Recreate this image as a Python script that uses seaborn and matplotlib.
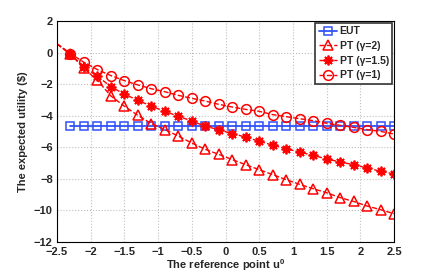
import numpy as np
import pandas as pd
import seaborn as sns
import matplotlib.pyplot as plt

# reference point u0 (markers every 0.2, PT lines start at -2.5)
u0 = [-2.5, -2.3, -2.1, -1.9, -1.7, -1.5, -1.3, -1.1, -0.9, -0.7, -0.5, -0.3, -0.1,
      0.1, 0.3, 0.5, 0.7, 0.9, 1.1, 1.3, 1.5, 1.7, 1.9, 2.1, 2.3, 2.5]

eut = [-4.62] * 25
pt_g2 = [0.55, -0.10, -1.00, -1.76, -2.75, -3.40, -3.98, -4.50, -4.88, -5.29, -5.73, -6.13, -6.45,
         -6.78, -7.10, -7.42, -7.73, -8.05, -8.35, -8.62, -8.88, -9.19, -9.43, -9.72, -9.95, -10.21]
pt_g15 = [0.55, -0.10, -0.91, -1.50, -2.16, -2.64, -3.02, -3.40, -3.72, -4.04, -4.33, -4.67, -4.88,
          -5.14, -5.35, -5.62, -5.86, -6.09, -6.30, -6.51, -6.74, -6.93, -7.10, -7.31, -7.52, -7.69]
pt_g1 = [0.55, -0.06, -0.62, -1.08, -1.46, -1.78, -2.05, -2.29, -2.48, -2.71, -2.90, -3.07, -3.28,
         -3.45, -3.60, -3.72, -3.93, -4.06, -4.19, -4.31, -4.48, -4.61, -4.74, -4.88, -4.99, -5.16]

xticks = [-2.5, -2, -1.5, -1, -0.5, 0, 0.5, 1, 1.5, 2, 2.5]
yticks = [-12, -10, -8, -6, -4, -2, 0, 2]

sns.set_style('white')
plt.rcParams['font.family'] = ['Liberation Sans', 'DejaVu Sans']
plt.rcParams['font.weight'] = 'bold'
plt.rcParams['font.size'] = 8
plt.rcParams['mathtext.fontset'] = 'custom'
plt.rcParams['mathtext.bf'] = 'Liberation Sans:bold'
plt.rcParams['mathtext.default'] = 'bf'

fig = plt.figure(figsize=(4.36, 2.73), dpi=100)
ax = fig.add_axes([57 / 436, 1 - 242 / 273, 337 / 436, 221 / 273])

RED = '#ff0000'
BLUE = '#3050f8'
pts = list(range(1, 26))

sns.lineplot(x=u0[1:], y=eut, ax=ax, color=BLUE, lw=1.3, marker='s', ms=5.5,
             mfc='none', mec=BLUE, mew=1.1, label='EUT')
sns.lineplot(x=u0, y=pt_g2, ax=ax, color=RED, lw=1.0, ls='--', marker='^', ms=7,
             mfc='none', mec=RED, mew=1.1, markevery=pts, label='PT (γ=2)')
sns.lineplot(x=u0, y=pt_g15, ax=ax, color=RED, lw=1.0, ls='--', marker=(8, 2, 0), ms=7,
             mec=RED, mew=1.3, markevery=pts, label='PT (γ=1.5)')
sns.lineplot(x=u0, y=pt_g1, ax=ax, color=RED, lw=1.0, ls='--', marker='o', ms=7,
             mfc='none', mec=RED, mew=1.1, markevery=pts, label='PT (γ=1)')

ax.set_xlim(-2.5, 2.5)
ax.set_ylim(-12, 2)
ax.set_xticks(xticks)
ax.set_xticklabels([f'{t:g}'.replace('-', '\u2212') for t in xticks])
ax.set_yticks(yticks)
ax.set_yticklabels([f'{t:g}'.replace('-', '\u2212') for t in yticks])
ax.grid(True, ls=':', color='#c0c0c0', lw=0.8)
ax.tick_params(direction='in', length=3, width=0.8)
ax.tick_params(axis='x', pad=3.5)
ax.tick_params(axis='y', pad=3)
for s in ax.spines.values():
    s.set_color('black')
    s.set_linewidth(0.8)

ax.set_xlabel('The reference point u$^0$', fontweight='bold', labelpad=0)
ax.set_ylabel('The expected utility (\\$)', fontweight='bold', labelpad=4)

leg = ax.legend(loc='upper right', fancybox=False, framealpha=1, edgecolor='#333333',
                borderpad=0.35, labelspacing=0.45, handlelength=1.8, handletextpad=0.2,
                borderaxespad=0.15, prop={'weight': 'bold', 'size': 7.5})
leg.get_frame().set_linewidth(1.2)

fig.savefig('out.png', dpi=100)
